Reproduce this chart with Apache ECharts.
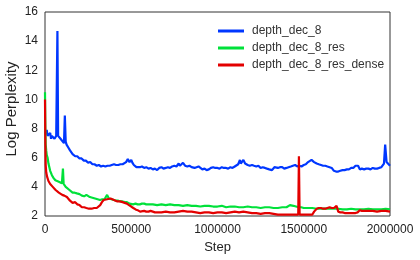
<!DOCTYPE html>
<html><head><meta charset="utf-8">
<script src="https://cdn.jsdelivr.net/npm/echarts@6/dist/echarts.min.js"></script>
<style>html,body{margin:0;padding:0;background:#fff}#c{width:420px;height:260px}</style>
</head><body><div id="c"></div>
<script>
const seriesNames = ['depth_dec_8', 'depth_dec_8_res', 'depth_dec_8_res_dense'];
const xTicks = [0, 500000, 1000000, 1500000, 2000000];
const yTicks = [2, 4, 6, 8, 10, 12, 14, 16];

const blueData = [[0,7.8],[5000,7.6],[10000,7.9],[15000,7.5],[20000,7.6],[25000,7.4],[30000,7.7],[35000,7.3],[40000,7.5],[45000,7.4],[50000,7.6],[55000,7.3],[60000,7.4],[65000,7.5],[70000,7.4],[72000,14.7],[76000,7.5],[80000,7.4],[90000,7.3],[100000,7.4],[110000,7.0],[115000,8.9],[120000,7.1],[125000,6.9],[130000,6.95],[135000,6.7],[140000,6.65],[145000,6.5],[150000,6.55],[160000,6.25],[167000,6.3],[175000,6.1],[187000,6.1],[200000,5.95],[212000,5.95],[225000,5.8],[237000,5.8],[250000,5.65],[262000,5.7],[275000,5.55],[287000,5.55],[300000,5.45],[312000,5.5],[325000,5.4],[337000,5.45],[350000,5.4],[362000,5.45],[375000,5.45],[387000,5.5],[400000,5.55],[412000,5.5],[425000,5.5],[437000,5.55],[450000,5.55],[460000,5.6],[470000,5.7],[480000,5.9],[490000,5.7],[500000,5.85],[507000,5.65],[515000,5.5],[522000,5.45],[530000,5.35],[540000,5.4],[550000,5.35],[562000,5.4],[575000,5.3],[587000,5.35],[600000,5.25],[612000,5.3],[625000,5.2],[637000,5.25],[650000,5.15],[662000,5.3],[675000,5.35],[687000,5.25],[700000,5.3],[712000,5.35],[725000,5.3],[737000,5.4],[750000,5.45],[762000,5.4],[775000,5.6],[782000,5.45],[790000,5.45],[800000,5.65],[812000,5.45],[825000,5.4],[837000,5.45],[850000,5.35],[860000,5.45],[867000,5.3],[875000,5.3],[890000,5.4],[900000,5.3],[912000,5.2],[925000,5.25],[937000,5.15],[950000,5.2],[962000,5.3],[975000,5.35],[987000,5.3],[1000000,5.3],[1012000,5.25],[1025000,5.35],[1037000,5.3],[1050000,5.3],[1062000,5.25],[1075000,5.35],[1087000,5.3],[1100000,5.4],[1110000,5.35],[1120000,5.55],[1130000,5.85],[1135000,5.6],[1140000,5.6],[1150000,5.85],[1160000,5.6],[1167000,5.65],[1175000,5.5],[1187000,5.45],[1200000,5.5],[1212000,5.45],[1225000,5.4],[1237000,5.45],[1250000,5.3],[1262000,5.35],[1275000,5.3],[1287000,5.25],[1300000,5.2],[1316000,5.15],[1330000,5.35],[1340000,5.3],[1350000,5.3],[1362000,5.35],[1375000,5.35],[1387000,5.25],[1400000,5.3],[1412000,5.35],[1425000,5.4],[1437000,5.45],[1450000,5.5],[1462000,5.4],[1475000,5.45],[1487000,5.4],[1500000,5.5],[1512000,5.55],[1525000,5.7],[1535000,5.6],[1545000,5.85],[1560000,5.7],[1567000,5.65],[1575000,5.6],[1587000,5.55],[1600000,5.5],[1612000,5.45],[1625000,5.45],[1637000,5.4],[1650000,5.35],[1662000,5.3],[1675000,5.1],[1687000,5.05],[1700000,5.05],[1712000,5.1],[1725000,5.15],[1737000,5.15],[1750000,5.2],[1762000,5.2],[1775000,5.3],[1787000,5.3],[1800000,5.45],[1815000,5.45],[1825000,5.2],[1837000,5.25],[1850000,5.2],[1862000,5.25],[1875000,5.25],[1887000,5.2],[1900000,5.3],[1912000,5.25],[1925000,5.25],[1937000,5.3],[1950000,5.35],[1958000,5.4],[1965000,5.6],[1972000,6.9],[1980000,5.7],[1990000,5.6],[2000000,5.45]];

const greenData = [[0,10.5],[2000,8.0],[4000,6.9],[7000,6.5],[10000,6.2],[15000,6.0],[20000,5.6],[30000,5.1],[40000,4.8],[50000,4.6],[60000,4.45],[70000,4.4],[80000,4.35],[90000,4.3],[98000,4.25],[104000,5.25],[108000,4.2],[120000,4.0],[130000,3.9],[140000,3.8],[150000,3.7],[160000,3.6],[172000,3.6],[185000,3.55],[200000,3.5],[214000,3.4],[227000,3.35],[240000,3.45],[250000,3.35],[260000,3.3],[275000,3.25],[290000,3.2],[305000,3.15],[319000,3.1],[332000,3.15],[345000,3.15],[360000,3.45],[370000,3.2],[385000,3.15],[400000,3.1],[412000,3.05],[425000,3.05],[437000,3.0],[450000,3.0],[462000,2.95],[475000,2.95],[490000,2.85],[510000,2.8],[525000,2.85],[537000,2.8],[550000,2.8],[562000,2.85],[575000,2.85],[587000,2.8],[600000,2.8],[625000,2.8],[650000,2.75],[675000,2.8],[700000,2.75],[725000,2.8],[750000,2.75],[775000,2.75],[800000,2.7],[825000,2.75],[850000,2.7],[875000,2.7],[900000,2.65],[925000,2.7],[950000,2.7],[975000,2.65],[1000000,2.65],[1025000,2.7],[1050000,2.6],[1075000,2.65],[1100000,2.65],[1125000,2.6],[1150000,2.6],[1175000,2.65],[1200000,2.6],[1225000,2.6],[1250000,2.55],[1275000,2.6],[1300000,2.6],[1325000,2.55],[1350000,2.55],[1375000,2.6],[1400000,2.6],[1420000,2.75],[1440000,2.7],[1455000,2.65],[1470000,2.6],[1485000,2.6],[1500000,2.55],[1525000,2.55],[1550000,2.55],[1575000,2.5],[1600000,2.5],[1625000,2.5],[1650000,2.5],[1675000,2.5],[1700000,2.5],[1725000,2.45],[1750000,2.45],[1775000,2.5],[1800000,2.45],[1825000,2.45],[1850000,2.45],[1875000,2.5],[1900000,2.45],[1925000,2.45],[1950000,2.45],[1975000,2.5],[2000000,2.45]];

const redData = [[0,10.0],[2000,7.0],[4000,5.5],[7000,5.0],[12000,4.7],[20000,4.4],[30000,4.2],[45000,4.0],[60000,3.8],[70000,3.75],[80000,3.6],[90000,3.55],[100000,3.45],[112000,3.4],[127000,3.3],[137000,3.2],[145000,3.05],[152000,3.0],[160000,2.9],[175000,2.95],[187000,2.8],[200000,2.75],[207000,2.7],[214000,2.6],[227000,2.6],[240000,2.55],[255000,2.5],[270000,2.5],[285000,2.55],[300000,2.55],[310000,2.6],[320000,2.75],[330000,2.95],[340000,3.1],[350000,3.1],[360000,3.15],[370000,3.2],[380000,3.2],[390000,3.15],[400000,3.1],[410000,3.05],[420000,3.0],[435000,3.0],[450000,2.95],[462000,2.9],[475000,2.85],[487000,2.75],[500000,2.65],[512000,2.55],[525000,2.45],[537000,2.4],[551000,2.3],[562000,2.35],[575000,2.35],[587000,2.3],[600000,2.3],[612000,2.35],[625000,2.3],[637000,2.25],[650000,2.25],[675000,2.25],[700000,2.3],[725000,2.25],[750000,2.25],[775000,2.3],[800000,2.35],[825000,2.3],[850000,2.3],[875000,2.25],[900000,2.2],[925000,2.25],[950000,2.25],[975000,2.2],[1000000,2.25],[1025000,2.25],[1050000,2.2],[1075000,2.25],[1100000,2.3],[1125000,2.25],[1150000,2.3],[1175000,2.25],[1200000,2.2],[1225000,2.2],[1250000,2.15],[1275000,2.2],[1300000,2.2],[1325000,2.15],[1350000,2.1],[1375000,2.1],[1400000,2.1],[1425000,2.1],[1450000,2.1],[1468000,2.1],[1472000,6.1],[1476000,2.1],[1500000,2.1],[1525000,2.1],[1550000,2.1],[1560000,2.3],[1575000,2.5],[1587000,2.55],[1600000,2.55],[1612000,2.5],[1625000,2.5],[1637000,2.55],[1650000,2.6],[1662000,2.55],[1675000,2.55],[1690000,2.7],[1700000,2.3],[1712000,2.25],[1725000,2.25],[1737000,2.2],[1750000,2.2],[1762000,2.2],[1775000,2.2],[1787000,2.2],[1800000,2.2],[1812000,2.25],[1825000,2.4],[1837000,2.35],[1850000,2.35],[1875000,2.35],[1900000,2.35],[1925000,2.3],[1950000,2.35],[1975000,2.35],[2000000,2.3]];

const colors = ['#0037ff', '#00e13a', '#e30000'];
const allData = [blueData, greenData, redData];
const font = 'Liberation Sans, Arial, sans-serif';

const chart = echarts.init(document.getElementById('c'), null, {renderer: 'canvas'});
chart.setOption({
  animation: false,
  textStyle: {fontFamily: font},
  grid: {left: 45, right: 30, top: 12, bottom: 44, show: true, borderColor: '#333', borderWidth: 1, containLabel: false, outerBoundsMode: 'none'},
  legend: {
    orient: 'vertical', left: 213, top: 20, itemWidth: 26, itemHeight: 3, itemGap: 5,
    icon: 'rect',
    textStyle: {fontSize: 12, color: '#333', fontFamily: font, padding: [0,0,0,3]},
    data: seriesNames
  },
  xAxis: {
    type: 'value', min: xTicks[0], max: xTicks[xTicks.length-1], interval: 500000,
    name: 'Step', nameLocation: 'middle', nameGap: 25, nameMoveOverlap: false,
    nameTextStyle: {fontSize: 13, color: '#222', fontFamily: font},
    axisLine: {show: false}, axisTick: {show: false}, splitLine: {show: false},
    axisLabel: {fontSize: 12, color: '#222', margin: 8, fontFamily: font, formatter: v => String(v)}
  },
  yAxis: {
    type: 'value', min: yTicks[0], max: yTicks[yTicks.length-1], interval: 2,
    name: 'Log Perplexity', nameLocation: 'middle', nameGap: 26, nameMoveOverlap: false,
    nameTextStyle: {fontSize: 15, color: '#222', fontFamily: font, padding: [0,0,0,10]},
    axisLine: {show: false}, axisTick: {show: false}, splitLine: {show: false},
    axisLabel: {fontSize: 12, color: '#222', margin: 7, fontFamily: font, formatter: v => String(v)}
  },
  series: seriesNames.map((n, i) => ({
    name: n, type: 'line', data: allData[i], showSymbol: false, symbol: 'none',
    lineStyle: {color: colors[i], width: 2.2}, itemStyle: {color: colors[i]},
    z: 2 + i
  }))
});
</script></body></html>
